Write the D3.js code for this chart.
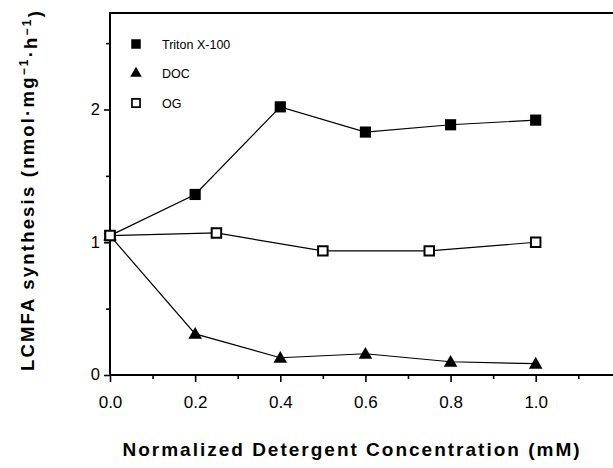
<!DOCTYPE html>
<html>
<head>
<meta charset="utf-8">
<script src="https://cdn.jsdelivr.net/npm/d3@7"></script>
<style>
  body { margin: 0; background: #fff; }
  svg { display: block; }
  text { font-family: "Liberation Sans", Arial, Helvetica, sans-serif; fill: #000; }
</style>
</head>
<body>
<script>
// data
const tritonX = [0.0, 0.2, 0.4, 0.6, 0.8, 1.0];
const tritonY = [1.05, 1.36, 2.02, 1.83, 1.885, 1.92];
const docX = [0.0, 0.2, 0.4, 0.6, 0.8, 1.0];
const docY = [1.05, 0.31, 0.13, 0.16, 0.1, 0.085];
const ogX = [0.0, 0.25, 0.5, 0.75, 1.0];
const ogY = [1.05, 1.07, 0.935, 0.935, 1.0];

const seriesNames = ["Triton X-100", "DOC", "OG"];
const xTickLabels = ["0.0", "0.2", "0.4", "0.6", "0.8", "1.0"];
const yTickLabels = ["0", "1", "2"];

const width = 613;
const height = 468;

const svg = d3.select("body").append("svg").attr("width", width).attr("height", height);

const padLeft = 110, padTop = 13, padBottom = 375;

// x: 0..1 spans 110..535.7 px
const xScale = d3.scaleLinear().domain([0, 1]).range([padLeft, 535.7]);
const xMax = xScale.invert(width);
// y: 0..2 spans 375..109.5 px
const yScale = d3.scaleLinear().domain([0, 2]).range([padBottom, 109.5]);
const yMax = yScale.invert(padTop);

/** 軸 */
const axisx = d3.axisBottom(xScale)
  .tickValues(xTickLabels.map(Number))
  .tickFormat(d3.format(".1f"))
  .tickSize(7)
  .tickPadding(13);
const axisxMinor = d3.axisBottom(xScale)
  .tickValues(d3.range(0.1, xMax, 0.2))
  .tickFormat("")
  .tickSize(4);
const axisy = d3.axisLeft(yScale)
  .tickValues(yTickLabels.map(Number))
  .tickFormat(d3.format("d"))
  .tickSize(6)
  .tickPadding(4);
const axisyMinor = d3.axisLeft(yScale)
  .tickValues([0.5, 1.5, 2.5])
  .tickFormat("")
  .tickSize(4);

const gx = svg.append("g")
  .attr("transform", "translate(0," + padBottom + ")")
  .call(axisx);
const gxm = svg.append("g")
  .attr("transform", "translate(0," + padBottom + ")")
  .call(axisxMinor);
const gy = svg.append("g")
  .attr("transform", "translate(" + padLeft + ",0)")
  .call(axisy);
const gym = svg.append("g")
  .attr("transform", "translate(" + padLeft + ",0)")
  .call(axisyMinor);

[gx, gxm, gy, gym].forEach(g => {
  g.select(".domain").remove();
  g.selectAll(".tick line").attr("stroke", "#000").attr("stroke-width", 1.6);
});
gx.selectAll(".tick text").style("font-size", "17px").attr("dy", "0.75em");
gy.selectAll(".tick text").style("font-size", "16.5px").attr("dy", "0.3em");

// frame: left, top, bottom lines
svg.append("path")
  .attr("fill", "none")
  .attr("stroke", "#000")
  .attr("stroke-width", 2)
  .attr("d", d3.line()([[xScale(xMax), yScale(yMax)], [xScale(0), yScale(yMax)], [xScale(0), yScale(0)], [xScale(xMax), yScale(0)]]));

/** 折れ線 */
const line = d3.line().x(d => xScale(d[0])).y(d => yScale(d[1]));
const triton = d3.zip(tritonX, tritonY);
const doc = d3.zip(docX, docY);
const og = d3.zip(ogX, ogY);

[triton, doc, og].forEach(s => {
  svg.append("path")
    .datum(s)
    .attr("fill", "none")
    .attr("stroke", "#000")
    .attr("stroke-width", 1.2)
    .attr("d", line);
});

const sqFilled = d3.symbol().type(d3.symbolSquare).size(125);
const tri = d3.symbol().type(d3.symbolTriangle).size(80);
const sqOpen = d3.symbol().type(d3.symbolSquare).size(90);

svg.append("g").selectAll("path")
  .data(triton).enter().append("path")
  .attr("transform", d => "translate(" + xScale(d[0]) + "," + yScale(d[1]) + ")")
  .attr("d", sqFilled).attr("fill", "#000");

svg.append("g").selectAll("path")
  .data(doc).enter().append("path")
  .attr("transform", d => "translate(" + xScale(d[0]) + "," + (yScale(d[1]) + 1) + ")")
  .attr("d", tri).attr("fill", "#000");

svg.append("g").selectAll("path")
  .data(og).enter().append("path")
  .attr("transform", d => "translate(" + xScale(d[0]) + "," + yScale(d[1]) + ")")
  .attr("d", sqOpen).attr("fill", "#fff").attr("stroke", "#000").attr("stroke-width", 2);

/** 凡例 */
const legendSyms = [
  { sym: sqFilled, fill: "#000", stroke: "none" },
  { sym: tri, fill: "#000", stroke: "none" },
  { sym: sqOpen, fill: "#fff", stroke: "#000" }
];
const legend = svg.append("g").selectAll("g")
  .data(seriesNames).enter().append("g")
  .attr("transform", (d, i) => "translate(136," + (44 + i * 29.5) + ")");
legend.append("path")
  .attr("d", (d, i) => legendSyms[i].sym())
  .attr("fill", (d, i) => legendSyms[i].fill)
  .attr("stroke", (d, i) => legendSyms[i].stroke)
  .attr("stroke-width", 2)
  .attr("transform", "scale(0.85)");
legend.append("text")
  .attr("x", 26)
  .attr("dy", "0.36em")
  .style("font-size", "12.5px")
  .text(d => d);

/** 軸タイトル */
svg.append("text")
  .attr("x", 352)
  .attr("y", 456)
  .attr("text-anchor", "middle")
  .style("font-size", "19px")
  .style("font-weight", "bold")
  .style("letter-spacing", "2px")
  .text("Normalized Detergent Concentration (mM)");

const ylab = svg.append("text")
  .attr("transform", "translate(34,190) rotate(-90)")
  .attr("text-anchor", "middle")
  .style("font-size", "18.5px")
  .style("font-weight", "bold")
  .style("letter-spacing", "2.2px");
ylab.append("tspan").text("LCMFA synthesis (nmol·mg");
ylab.append("tspan").attr("dy", "-0.5em").style("font-size", "12px").text("−1");
ylab.append("tspan").attr("dy", "0.5em").text("·h");
ylab.append("tspan").attr("dy", "-0.5em").style("font-size", "12px").text("−1");
ylab.append("tspan").attr("dy", "0.5em").text(")");
</script>
</body>
</html>
